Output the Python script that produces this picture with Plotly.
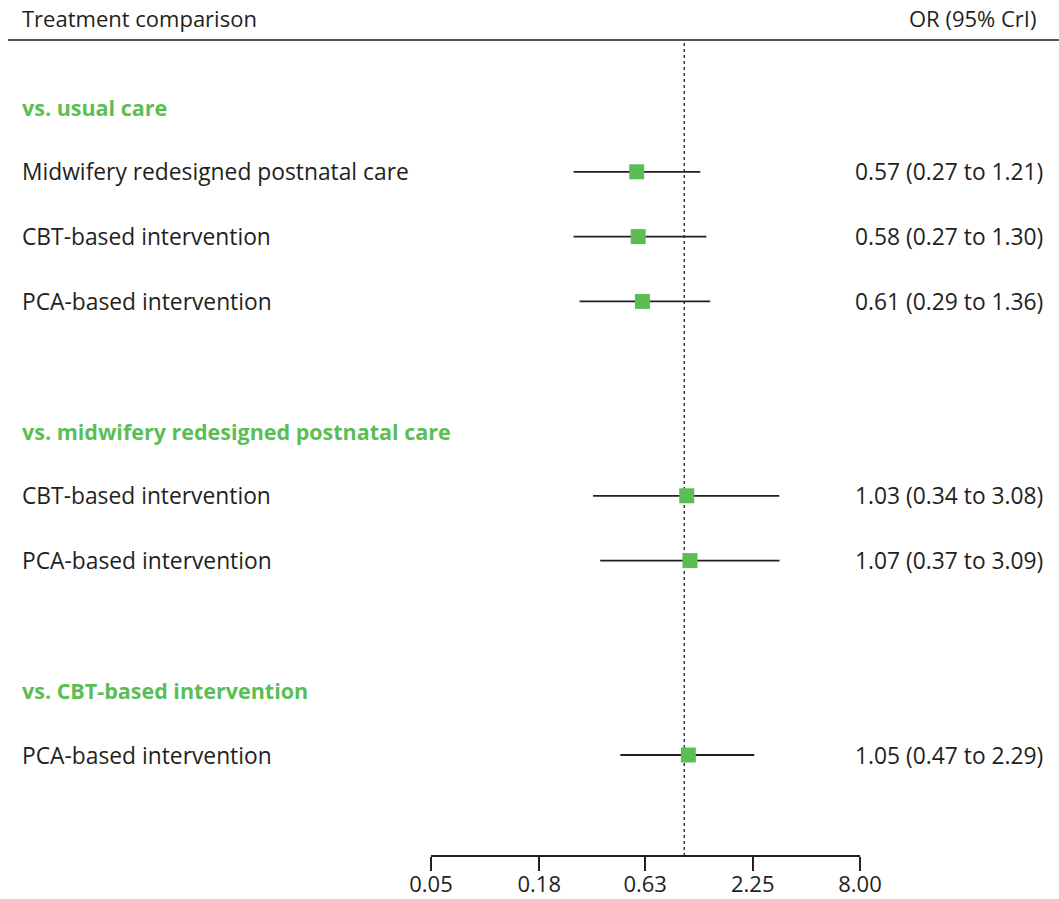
import plotly.graph_objects as go

# ---- data ----
group_titles = ["vs. usual care",
                "vs. midwifery redesigned postnatal care",
                "vs. CBT-based intervention"]
comparison_labels = ["Midwifery redesigned postnatal care",
                     "CBT-based intervention",
                     "PCA-based intervention",
                     "CBT-based intervention",
                     "PCA-based intervention",
                     "PCA-based intervention"]
comparison_group = [0, 0, 0, 1, 1, 2]
or_est = [0.57, 0.58, 0.61, 1.03, 1.07, 1.05]
cri_low = [0.27, 0.27, 0.29, 0.34, 0.37, 0.47]
cri_high = [1.21, 1.30, 1.36, 3.08, 3.09, 2.29]
tick_values = [0.05, 0.18, 0.63, 2.25, 8.00]
tick_labels = ["0.05", "0.18", "0.63", "2.25", "8.00"]

# ---- styling ----
GREEN = "#5BBE55"
TEXT = "#231F20"
FONT = "Open Sans"
FS = 22.8
FS_HEAD = 22
FS_BOLD = 21.5
FS_TICK = 22

W, H = 1059, 899
AX_L, AX_R, AX_Y, TOP_Y = 431, 860, 855, 40   # pixel geometry
L, R = AX_L, W - AX_R
T, B = TOP_Y, H - AX_Y
plot_w = W - L - R
plot_h = H - T - B

# assign rows: group title row, item rows, then a blank row
group_rows = []
item_rows = []
row = 0
for g in range(len(group_titles)):
    group_rows.append(row)
    row += 1
    for i, cg in enumerate(comparison_group):
        if cg == g:
            item_rows.append(row)
            row += 1
    row += 1
row_px = 64.8
y_top = -(107 - TOP_Y) / row_px
y_bot = y_top + plot_h / row_px


def px_x(p):
    return (p - AX_L) / plot_w


def px_y(p):
    return (AX_Y - p) / plot_h


fig = go.Figure()

# reference line at OR = 1
fig.add_trace(go.Scatter(
    x=[1, 1], y=[y_top + 3 / row_px, y_bot], mode="lines",
    line=dict(color=TEXT, width=1.3, dash="dot"),
    hoverinfo="skip", showlegend=False, cliponaxis=False))

# credible interval lines
xs, ys = [], []
for lo, hi, r in zip(cri_low, cri_high, item_rows):
    xs += [lo, hi, None]
    ys += [r, r, None]
fig.add_trace(go.Scatter(
    x=xs, y=ys, mode="lines", line=dict(color=TEXT, width=1.8),
    hoverinfo="skip", showlegend=False))

# point estimates
fig.add_trace(go.Scatter(
    x=or_est, y=item_rows, mode="markers",
    marker=dict(symbol="square", size=15, color=GREEN, line=dict(width=0)),
    showlegend=False))

annotations = []
annotations.append(dict(x=px_x(20), y=px_y(18), xref="paper", yref="paper",
                        text="Treatment comparison", showarrow=False,
                        xanchor="left", yanchor="middle",
                        font=dict(family=FONT, size=FS_HEAD, color=TEXT)))
annotations.append(dict(x=px_x(1038), y=px_y(18), xref="paper", yref="paper",
                        text="OR (95% CrI)", showarrow=False,
                        xanchor="right", yanchor="middle",
                        font=dict(family=FONT, size=FS_HEAD, color=TEXT)))
for title, r in zip(group_titles, group_rows):
    annotations.append(dict(x=px_x(20), y=r, xref="paper", yref="y",
                            text="<b>" + title + "</b>", showarrow=False,
                            xanchor="left", yanchor="middle",
                            font=dict(family=FONT, size=FS_BOLD, color=GREEN)))
for lab, est, lo, hi, r in zip(comparison_labels, or_est, cri_low, cri_high, item_rows):
    annotations.append(dict(x=px_x(20), y=r, xref="paper", yref="y",
                            text=lab, showarrow=False,
                            xanchor="left", yanchor="middle",
                            font=dict(family=FONT, size=FS, color=TEXT)))
    annotations.append(dict(x=px_x(1045), y=r, xref="paper", yref="y",
                            text=f"{est:.2f} ({lo:.2f} to {hi:.2f})", showarrow=False,
                            xanchor="right", yanchor="middle",
                            font=dict(family=FONT, size=FS, color=TEXT)))

shapes = [dict(type="line", xref="paper", yref="paper",
               x0=px_x(8), x1=px_x(W), y0=1, y1=1,
               line=dict(color=TEXT, width=1.5))]

fig.update_layout(
    width=W, height=H,
    margin=dict(l=L, r=R, t=T, b=B, pad=0, autoexpand=False),
    paper_bgcolor="white", plot_bgcolor="white",
    annotations=annotations, shapes=shapes,
    xaxis=dict(type="log", range=[-1.30103, 0.90309],
               tickvals=tick_values, ticktext=tick_labels,
               showline=True, linecolor=TEXT, linewidth=1.5,
               ticks="outside", ticklen=14, tickwidth=1.5, tickcolor=TEXT,
               ticklabelstandoff=-5, automargin=False,
               showgrid=False, zeroline=False,
               tickfont=dict(family=FONT, size=FS_TICK, color=TEXT)),
    yaxis=dict(range=[y_bot, y_top], visible=False, showgrid=False,
               zeroline=False, automargin=False),
    font=dict(family=FONT, color=TEXT),
)

# the page body has a default 8px margin; remove it so the figure fills the window
fig.write_html("out.html", config={"displayModeBar": False},
               post_script="document.body.style.margin='0';")
